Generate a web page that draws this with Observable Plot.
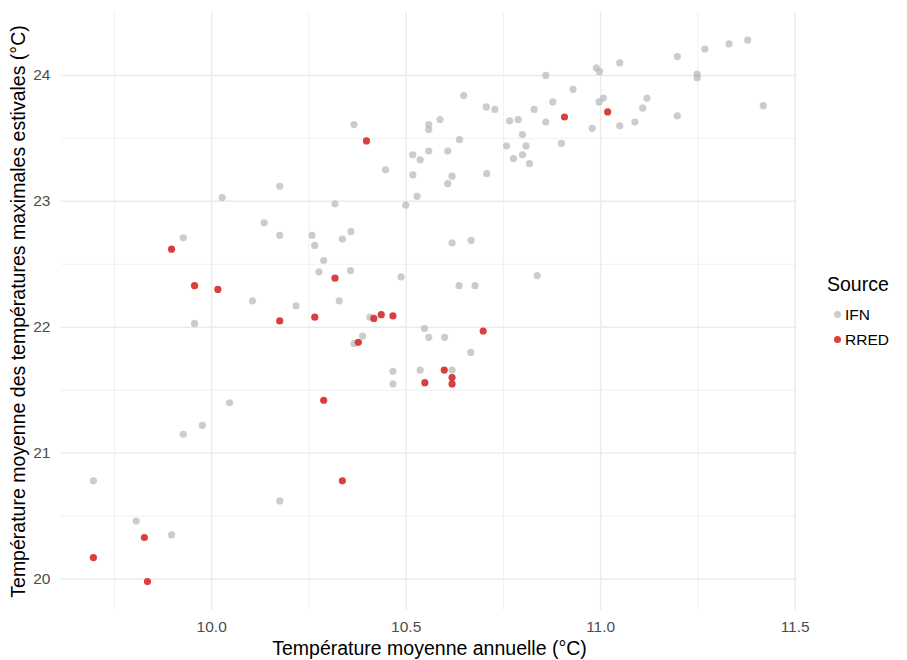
<!DOCTYPE html>
<html>
<head>
<meta charset="utf-8">
<script src="https://cdn.jsdelivr.net/npm/d3@7"></script>
<script src="https://cdn.jsdelivr.net/npm/@observablehq/plot@0.6"></script>
<style>
  html, body { margin: 0; padding: 0; background: #ffffff; }
  #wrap { position: relative; width: 907px; height: 660px; font-family: "Liberation Sans", Arial, sans-serif; }
  #legend { position: absolute; left: 827px; top: 270px; }
  #legend .title { font-size: 19.5px; color: #000; line-height: 28px; margin-bottom: 4px; }
  #legend .item { position: relative; height: 25px; line-height: 25px; font-size: 15.5px; color: #000; padding-left: 18px; }
  #legend .item span.dot { position: absolute; left: 7px; top: 9px; width: 7px; height: 7px; border-radius: 50%; }
</style>
</head>
<body>
<div id="wrap"><div id="legend"></div></div>
<script>
// ---- Data ----
const sources = ["IFN", "RRED"];
const sourceColors = ["#b8b8b8", "#d62a2a"];
const sourceOpacity = [0.72, 0.9];

const ifnX = [9.696, 9.806, 9.897, 9.927, 9.927, 9.956, 9.976, 10.027, 10.046, 10.105,
  10.135, 10.175, 10.175, 10.175, 10.217, 10.258, 10.265, 10.288, 10.276, 10.317,
  10.328, 10.336, 10.358, 10.357, 10.366, 10.366, 10.388, 10.407, 10.447, 10.466,
  10.466, 10.487, 10.499, 10.517, 10.517, 10.528, 10.536, 10.536, 10.547, 10.558,
  10.558, 10.558, 10.558, 10.587, 10.599, 10.607, 10.607, 10.618, 10.618, 10.618,
  10.636, 10.637, 10.648, 10.666, 10.667, 10.677, 10.706, 10.707, 10.728, 10.758,
  10.766, 10.776, 10.788, 10.799, 10.799, 10.808, 10.817, 10.829, 10.837, 10.859,
  10.859, 10.877, 10.899, 10.929, 10.978, 10.989, 10.996, 10.997, 11.007, 11.049,
  11.049, 11.088, 11.108, 11.119, 11.197, 11.197, 11.248, 11.248, 11.268, 11.330,
  11.378, 11.418];
const ifnY = [20.78, 20.46, 20.35, 22.71, 21.15, 22.03, 21.22, 23.03, 21.40, 22.21,
  22.83, 23.12, 22.73, 20.62, 22.17, 22.73, 22.65, 22.53, 22.44, 22.98,
  22.21, 22.70, 22.76, 22.45, 23.61, 21.87, 21.93, 22.08, 23.25, 21.65,
  21.55, 22.40, 22.97, 23.37, 23.21, 23.04, 23.33, 21.66, 21.99, 23.61,
  23.57, 23.40, 21.92, 23.65, 21.92, 23.40, 23.14, 23.20, 22.67, 21.66,
  22.33, 23.49, 23.84, 21.80, 22.69, 22.33, 23.75, 23.22, 23.73, 23.44,
  23.64, 23.34, 23.65, 23.53, 23.37, 23.44, 23.30, 23.73, 22.41, 24.00,
  23.63, 23.79, 23.46, 23.89, 23.58, 24.06, 23.79, 24.03, 23.82, 24.10,
  23.60, 23.63, 23.74, 23.82, 24.15, 23.68, 24.01, 23.98, 24.21, 24.25,
  24.28, 23.76];

const rredX = [9.696, 9.827, 9.835, 9.897, 9.956, 10.016, 10.175, 10.265, 10.288, 10.317,
  10.336, 10.377, 10.398, 10.417, 10.436, 10.466, 10.548, 10.598, 10.618, 10.618,
  10.698, 10.907, 11.018];
const rredY = [20.17, 20.33, 19.98, 22.62, 22.33, 22.30, 22.05, 22.08, 21.42, 22.39,
  20.78, 21.88, 23.48, 22.07, 22.10, 22.09, 21.56, 21.66, 21.60, 21.55,
  21.97, 23.67, 23.71];

const xTicks = [10, 10.5, 11, 11.5];
const xMinor = [9.75, 10.25, 10.75, 11.25];
const yTicks = [20, 21, 22, 23, 24];
const yMinor = [20.5, 21.5, 22.5, 23.5];
const xDomain = [9.614, 11.506];
const yDomain = [19.75, 24.5];

const xTitle = "Température moyenne annuelle (°C)";
const yTitle = "Température moyenne des températures maximales estivales (°C)";
const legendTitle = "Source";

// ---- Build tables ----
const ifn = ifnX.map((x, i) => ({x, y: ifnY[i], source: sources[0]}));
const rred = rredX.map((x, i) => ({x, y: rredY[i], source: sources[1]}));

const font = "'Liberation Sans', Arial, sans-serif";

const chart = Plot.plot({
  width: 907,
  height: 660,
  marginLeft: 61,
  marginRight: 110,
  marginTop: 12,
  marginBottom: 50,
  style: {fontFamily: font, background: "#ffffff", overflow: "visible"},
  x: {domain: xDomain},
  y: {domain: yDomain},
  marks: [
    Plot.gridX(xMinor, {stroke: "#ebebeb", strokeOpacity: 1, strokeWidth: 0.75}),
    Plot.gridY(yMinor, {stroke: "#ebebeb", strokeOpacity: 1, strokeWidth: 0.75}),
    Plot.gridX(xTicks, {stroke: "#ebebeb", strokeOpacity: 1, strokeWidth: 1.45}),
    Plot.gridY(yTicks, {stroke: "#ebebeb", strokeOpacity: 1, strokeWidth: 1.45}),
    Plot.axisX(xTicks, {tickSize: 0, tickPadding: 10, fontSize: 15.5, fill: "#4d4d4d",
      tickFormat: d => d.toFixed(1), label: null}),
    Plot.axisY(yTicks, {tickSize: 0, tickPadding: 11, fontSize: 15.5, fill: "#4d4d4d",
      tickFormat: d => String(d), label: null}),
    Plot.text([xTitle], {text: d => d, frameAnchor: "bottom", dy: 38, lineAnchor: "middle",
      textAnchor: "middle", fontSize: 19.5, fill: "#000000"}),
    Plot.text([yTitle], {text: d => d, frameAnchor: "left", dx: -43, rotate: -90, lineAnchor: "middle",
      textAnchor: "middle", fontSize: 19.5, fill: "#000000"}),
    Plot.dot(ifn, {x: "x", y: "y", r: 3.6, fill: sourceColors[0], fillOpacity: sourceOpacity[0], stroke: "none"}),
    Plot.dot(rred, {x: "x", y: "y", r: 3.6, fill: sourceColors[1], fillOpacity: sourceOpacity[1], stroke: "none"})
  ]
});

const wrap = document.getElementById("wrap");
wrap.insertBefore(chart, wrap.firstChild);

// ---- Legend ----
const legend = document.getElementById("legend");
const t = document.createElement("div");
t.className = "title";
t.textContent = legendTitle;
legend.appendChild(t);
sources.forEach((s, i) => {
  const it = document.createElement("div");
  it.className = "item";
  const dot = document.createElement("span");
  dot.className = "dot";
  dot.style.background = sourceColors[i];
  dot.style.opacity = sourceOpacity[i];
  it.appendChild(dot);
  it.appendChild(document.createTextNode(s));
  legend.appendChild(it);
});
</script>
</body>
</html>
